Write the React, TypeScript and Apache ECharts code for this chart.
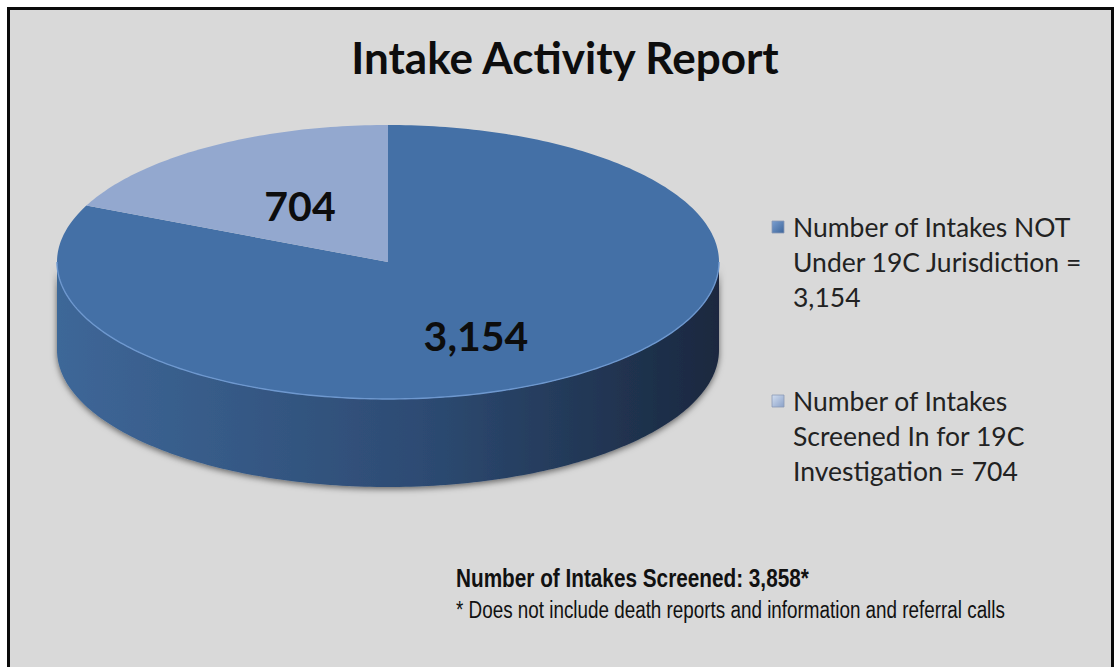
import React, { useEffect, useRef } from "react";
import * as echarts from "echarts";

const categories = [
  "Number of Intakes NOT Under 19C Jurisdiction",
  "Number of Intakes Screened In for 19C Investigation",
];
const values = [3154, 704];
const sliceLabels = ["3,154", "704"];
const legendLines = [
  ["Number of Intakes NOT", "Under 19C Jurisdiction =", "3,154"],
  ["Number of Intakes", "Screened In for 19C", "Investigation = 704"],
];
const titleText = "Intake Activity Report";
const totalText = "Number of Intakes Screened: 3,858*";
const noteText = "* Does not include death reports and information and referral calls";

const topColors = ["#4470a6", "#93a8cf"];
const sideStops = [
  ["#3e6798", "#2d4b73", "#1a283f"],
  ["#8095bb", "#6579a0", "#4c5d80"],
];
const markerColors = [
  ["#7b9fd0", "#3d659a"],
  ["#d2def0", "#8aa1c8"],
];

const CX = 388;
const CY = 262;
const RX = 331;
const RY = 137;
const DEPTH = 88;

function pt(a: number, dy = 0): number[] {
  const r = (a * Math.PI) / 180;
  return [CX + RX * Math.cos(r), CY - RY * Math.sin(r) + dy];
}

function arc(a0: number, a1: number, dy = 0): number[][] {
  const n = Math.max(2, Math.ceil(Math.abs(a1 - a0) / 1));
  const out: number[][] = [];
  for (let k = 0; k <= n; k++) out.push(pt(a0 + ((a1 - a0) * k) / n, dy));
  return out;
}

export default function App() {
  const ref = useRef<HTMLDivElement>(null);
  useEffect(() => {
    if (!ref.current) return;
    const chart = echarts.init(ref.current, undefined, { renderer: "svg" });
    const total = values.reduce((s, v) => s + v, 0);

    const renderItem = (params: any, api: any) => {
      const i = params.dataIndex;
      let start = 90;
      for (let j = 0; j < i; j++) start -= (values[j] / total) * 360;
      const end = start - (api.value(0) / total) * 360;
      const children: any[] = [];
      for (let k = -1; k <= 1; k++) {
        const lo = Math.max(end, -180 + 360 * k);
        const hi = Math.min(start, 360 * k);
        if (hi - lo > 0.01) {
          const pts = arc(hi, lo, 0).concat(arc(lo, hi, DEPTH));
          children.push({
            type: "polygon",
            shape: { points: pts },
            style: {
              fill: new echarts.graphic.LinearGradient(0, 0, 1, 0, [
                { offset: 0, color: sideStops[i][0] },
                { offset: 0.55, color: sideStops[i][1] },
                { offset: 1, color: sideStops[i][2] },
              ]),
              shadowBlur: 6,
              shadowColor: "rgba(0,0,0,0.55)",
              shadowOffsetY: 2,
            },
          });
          children.push({
            type: "polyline",
            shape: { points: arc(hi, lo, 0) },
            style: { stroke: "#6e98cf", lineWidth: 1.4, fill: "none" },
            z2: 5,
          });
        }
      }
      children.push({
        type: "polygon",
        shape: { points: [[CX, CY]].concat(arc(start, end, 0)) },
        style: { fill: topColors[i] },
        z2: 3,
      });
      const mid = (start + end) / 2;
      const r = (mid * Math.PI) / 180;
      const f = 0.49;
      const lx = CX + RX * f * Math.cos(r);
      const ly = CY - RY * f * Math.sin(r) + (Math.sin(r) < 0 ? 17 : 0);
      children.push({
        type: "text",
        z2: 10,
        style: {
          text: sliceLabels[i],
          x: lx,
          y: ly,
          align: "center",
          verticalAlign: "middle",
          fill: "#0d0d0d",
          font: "bold 41px Lato",
        },
      });
      return { type: "group", children };
    };

    const graphics: any[] = [
      {
        type: "rect",
        z: -10,
        shape: { x: 8.5, y: 8.5, width: 1104, height: 680 },
        style: { fill: "#d9d9d9", stroke: "#0a0a0a", lineWidth: 3 },
      },
      {
        type: "text",
        z: 10,
        style: {
          text: titleText,
          x: 565,
          y: 57,
          align: "center",
          verticalAlign: "middle",
          fill: "#0d0d0d",
          font: "bold 44px Lato",
        },
      },
      {
        type: "text",
        z: 10,
        x: 456,
        y: 578,
        scaleX: 0.83,
        style: {
          text: totalText,
          x: 0,
          y: 0,
          align: "left",
          verticalAlign: "middle",
          fill: "#111",
          font: "bold 25px 'Liberation Sans', Arial",
        },
      },
      {
        type: "text",
        z: 10,
        x: 456,
        y: 610,
        scaleX: 0.82,
        style: {
          text: noteText,
          x: 0,
          y: 0,
          align: "left",
          verticalAlign: "middle",
          fill: "#111",
          font: "23px 'Liberation Sans', Arial",
        },
      },
    ];
    const legendTop = [227, 401];
    categories.forEach((name, i) => {
      graphics.push({
        type: "rect",
        z: 10,
        shape: { x: 772, y: legendTop[i] - 6, width: 12, height: 12 },
        style: {
          fill: new echarts.graphic.LinearGradient(0, 0, 1, 1, [
            { offset: 0, color: markerColors[i][0] },
            { offset: 1, color: markerColors[i][1] },
          ]),
          stroke: "#8a9ab5",
          lineWidth: 0.8,
        },
      });
      graphics.push({
        type: "text",
        z: 10,
        name,
        style: {
          text: legendLines[i].join("\n"),
          x: 793,
          y: legendTop[i] - 17.5,
          align: "left",
          verticalAlign: "top",
          lineHeight: 35,
          fill: "#222",
          font: "26.5px Lato",
        },
      });
    });

    chart.setOption({
      animation: false,
      backgroundColor: "#ffffff",
      graphic: graphics,
      series: [
        {
          type: "custom",
          coordinateSystem: "none",
          renderItem,
          data: values.map((v, i) => ({ name: categories[i], value: v })),
          silent: true,
        },
      ],
    });
    return () => chart.dispose();
  }, []);
  return (
    <div
      ref={ref}
      style={{ position: "absolute", left: 0, top: 0, width: 1115, height: 667 }}
    />
  );
}
